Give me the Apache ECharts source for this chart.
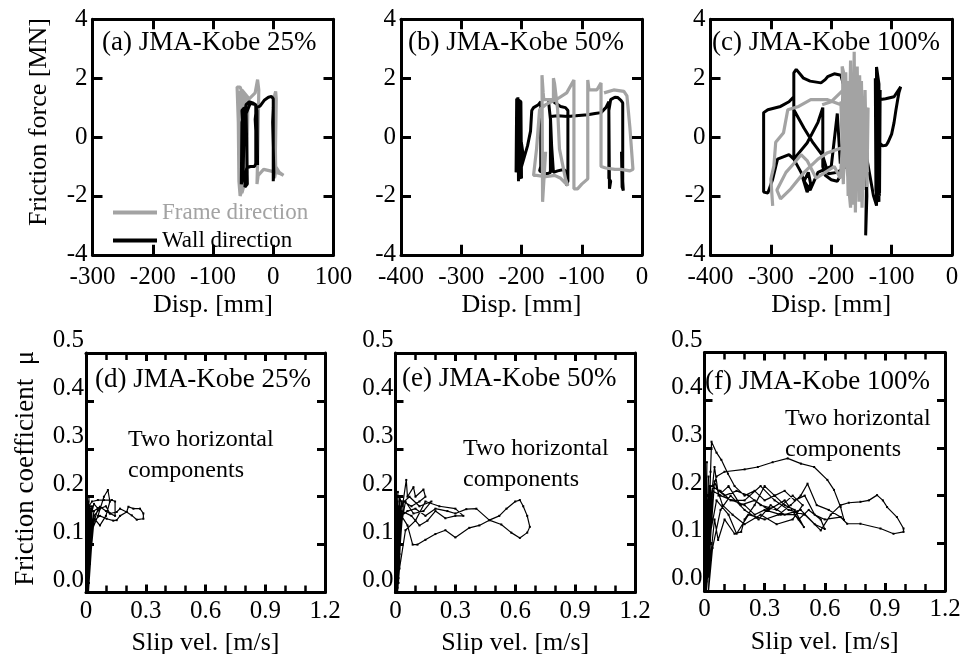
<!DOCTYPE html>
<html><head><meta charset="utf-8">
<script src="https://cdn.jsdelivr.net/npm/echarts@6/dist/echarts.min.js"></script>
<style>html,body{margin:0;padding:0;background:#fff}#c{width:961px;height:654px}</style>
</head><body><div id="c"></div>
<script>
// ---------- DATA ----------
const panelTitles = ['(a) JMA-Kobe 25%', '(b) JMA-Kobe 50%', '(c) JMA-Kobe 100%',
                     '(d) JMA-Kobe 25%', '(e) JMA-Kobe 50%', '(f) JMA-Kobe 100%'];
const seriesNames = ['Frame direction', 'Wall direction'];
const dispRanges = [[-300, 100], [-400, 0], [-400, 0]];
const forceRange = [-4, 4];
const velRange = [0, 1.2];
const muRange = [0, 0.5];
const dispAxisName = 'Disp. [mm]';
const velAxisName = 'Slip vel. [m/s]';
const forceAxisName = 'Friction force [MN]';
const muAxisName = 'Friction coefficient  \u03bc';
const noteText = 'Two horizontal\ncomponents';

// (a) 25% : [disp mm, force MN]
const frameA = [[-45,0.0],[-48,1.3],[-55,1.7],[-60,1.7],[-58,0.5],[-57,-1.5],[-55,-2.0],[-52,-1.8],[-50,-1.2],[-53,1.2],[-50,1.5],[-45,1.3],[-42,1.2],[-44,-1.2],[-48,-1.6],[-52,-1.9],[-54,0.8],[-56,1.5],[-52,1.6],[-40,1.3],[-30,1.5],[-26,1.95],[-24,1.6],[-26,-0.8],[-27,-1.6],[-25,-1.3],[-16,-1.1],[-5,-1.15],[5,-1.2],[12,-1.25],[17,-1.3],[10,-1.2],[4,-1.0],[3,0.5],[2,1.4],[4,1.55],[5,1.3],[3,-1.3],[2,-1.4]];
const wallA = [[-50,0.2],[-52,0.9],[-48,1.0],[-50,-1.4],[-53,-1.6],[-52,0.5],[-47,0.9],[-45,1.1],[-40,1.2],[-33,1.15],[-29,1.1],[-29,-0.9],[-31,-1.0],[-38,-1.0],[-44,-1.05],[-46,-1.3],[-47,-1.7],[-43,-1.6],[-45,0.8],[-38,1.15],[-30,1.1],[-27,0.9],[-26,-0.95],[-28,-1.0],[-30,0.6],[-28,1.0],[-22,1.05],[-15,1.25],[-8,1.35],[-3,1.38],[0,1.3],[0,-1.5],[1,-1.2],[-1,0.5],[0,1.0]];
// (b) 50%
const frameB = [[-160,-0.5],[-165,-2.2],[-166,2.1],[-164,1.5],[-163,1.27],[-155,1.27],[-147,1.27],[-147,2.0],[-145,1.8],[-140,0.93],[-137,-0.4],[-127,-1.42],[-123,-1.65],[-135,-1.4],[-145,-1.3],[-160,-1.35],[-175,-1.3],[-180,-1.3],[-175,-0.4],[-170,0.93],[-160,1.1],[-140,1.3],[-125,1.5],[-113,1.94],[-113,-1.76],[-107,-1.76],[-100,-1.6],[-90,-1.42],[-90,1.94],[-88,1.6],[-85,1.6],[-75,1.6],[-68,1.84],[-68,-1.0],[-60,-1.05],[-57,-1.1],[-45,-1.1],[-35,-1.1],[-20,-1.15],[-15,-1.1],[-20,0.3],[-25,1.4],[-30,1.55],[-47,1.6],[-63,1.5]];
const wallB = [[-205,-1.5],[-206,1.35],[-203,1.3],[-204,-1.3],[-200,-1.4],[-201,1.2],[-208,1.3],[-209,-1.2],[-207,0.8],[-198,-0.5],[-200,-1.0],[-197,-1.0],[-190,-0.3],[-185,0.2],[-183,0.9],[-180,1.0],[-178,0.95],[-172,1.1],[-168,1.2],[-168,-1.0],[-170,-1.15],[-165,-1.2],[-157,-1.25],[-152,-1.2],[-152,0.6],[-155,1.2],[-150,1.25],[-147,1.2],[-140,1.1],[-135,1.04],[-127,1.0],[-123,0.9],[-123,-1.5],[-125,-1.65],[-122,-1.6],[-125,-1.2],[-130,-1.1],[-140,-1.15],[-147,-1.2],[-150,-0.3],[-152,0.7],[-140,0.72],[-123,0.7],[-110,0.72],[-100,0.74],[-90,0.76],[-78,0.8],[-68,0.83],[-60,1.0],[-55,1.2],[-55,-1.4],[-52,-1.5],[-50,-1.45],[-54,-1.76],[-56,-1.7],[-55,0.9],[-52,1.27],[-45,1.35],[-40,1.34],[-35,1.25],[-32,1.16],[-32,-1.5],[-31,-1.82],[-33,-1.7],[-34,-0.5]];
// (c) 100%
const frameC = [[-297,-2.34],[-300,-1.43],[-295,-0.98],[-292,-0.18],[-279,0.15],[-272,0.93],[-254,1.04],[-234,1.27],[-206,1.27],[-184,1.1],[-175,1.0],[-184,1.2],[-180,-1.6],[-176,2.2],[-172,-2.0],[-168,2.6],[-165,-2.3],[-162,2.9],[-160,-2.56],[-157,2.4],[-154,-2.2],[-150,1.9],[-147,-1.8],[-144,1.6],[-141,-1.7],[-139,1.0],[-150,-0.2],[-173,-0.3],[-206,-0.53],[-222,-0.75],[-245,-1.2],[-267,-1.76],[-284,-2.1],[-290,-1.8],[-275,-1.2],[-262,-0.9],[-250,-0.6],[-240,-0.8],[-225,-1.4],[-210,-1.2],[-195,-1.0],[-185,-1.4],[-178,0.8],[-172,1.9],[-166,-1.2],[-160,2.2],[-155,-1.6],[-150,1.4],[-158,0.2],[-170,1.4],[-182,2.4],[-176,-0.6],[-168,-2.4],[-163,1.0],[-153,2.1],[-149,-2.4],[-145,0.3],[-140,-1.2],[-146,1.3],[-180,1.6],[-200,1.2],[-215,1.1]];
const wallC = [[-140,0.5],[-143,-3.34],[-141,-2.0],[-143,1.0],[-150,0.5],[-160,-0.5],[-175,-1.0],[-190,-1.2],[-205,-1.25],[-214,-0.64],[-230,-0.2],[-245,0.3],[-262,0.93],[-262,2.18],[-258,2.3],[-256,2.28],[-250,2.1],[-246,2.0],[-235,1.9],[-217,1.84],[-210,1.95],[-206,2.05],[-195,2.15],[-184,2.1],[-180,1.8],[-182,-1.2],[-190,-1.5],[-200,-1.45],[-210,-1.3],[-214,-1.0],[-214,1.0],[-222,0.5],[-240,-0.2],[-262,-0.75],[-270,-0.6],[-289,-0.75],[-297,-1.43],[-305,-1.9],[-312,-1.87],[-312,0.83],[-305,0.93],[-284,1.04],[-270,1.2],[-262,1.37],[-262,0.0],[-262,-0.75],[-250,-1.2],[-240,-1.87],[-234,-1.6],[-238,-1.2],[-245,-1.5],[-235,-1.8],[-222,-1.2],[-200,-1.0],[-190,0.8],[-185,-0.9],[-175,0.7],[-170,-1.2],[-160,1.4],[-155,-1.3],[-148,1.0],[-143,-0.5],[-130,-2.0],[-125,-2.33],[-125,2.38],[-121,1.8],[-121,-2.2],[-126,-1.8],[-127,2.0],[-123,-2.0],[-119,1.6],[-120,-1.9],[-124,2.2],[-122,-1.0],[-121,1.27],[-110,1.3],[-96,1.37],[-85,1.71],[-88,1.5],[-90,1.27],[-93,0.9],[-96,0.49],[-100,0.1],[-106,-0.18],[-109,-0.28],[-115,-0.3],[-120,-0.2],[-123,-1.5],[-120,-2.0]];
// (d)-(f): [slip velocity m/s, friction coefficient]
const muD = [[0.0,0.0],[0.01,0.17],[0.003,0.02],[0.02,0.18],[0.005,0.01],[0.012,0.19],[0.002,0.04],[0.025,0.16],[0.006,0.0],[0.015,0.2],[0.001,0.03],[0.03,0.17],[0.008,0.0],[0.02,0.08],[0.01,0.01],[0.03,0.12],[0.015,0.02],[0.025,0.15],[0.01,0.05],[0.02,0.17],[0.005,0.1],[0.015,0.18],[0.03,0.19],[0.06,0.193],[0.09,0.193],[0.13,0.193],[0.146,0.19],[0.146,0.16],[0.12,0.165],[0.1,0.17],[0.07,0.179],[0.04,0.17],[0.02,0.11],[0.01,0.02],[0.02,0.14],[0.04,0.16],[0.07,0.175],[0.1,0.18],[0.12,0.165],[0.154,0.168],[0.171,0.175],[0.204,0.168],[0.213,0.179],[0.238,0.175],[0.271,0.175],[0.288,0.165],[0.288,0.154],[0.255,0.152],[0.23,0.161],[0.204,0.168],[0.171,0.16],[0.154,0.151],[0.137,0.15],[0.104,0.154],[0.07,0.16],[0.04,0.15],[0.02,0.06],[0.01,0.0],[0.03,0.13],[0.06,0.16],[0.09,0.2],[0.11,0.214],[0.12,0.19],[0.1,0.16],[0.07,0.14],[0.04,0.155],[0.02,0.09],[0.005,0.01],[0.02,0.16],[0.03,0.18],[0.01,0.03],[0.02,0.175],[0.004,0.005],[0.018,0.15],[0.04,0.185],[0.06,0.175],[0.035,0.14],[0.012,0.0]];
const muE = [[0.0,0.0],[0.01,0.19],[0.003,0.01],[0.02,0.2],[0.005,0.02],[0.015,0.18],[0.002,0.0],[0.03,0.19],[0.006,0.03],[0.012,0.21],[0.001,0.02],[0.025,0.17],[0.005,0.0],[0.02,0.12],[0.01,0.02],[0.025,0.18],[0.01,0.05],[0.03,0.19],[0.015,0.03],[0.02,0.2],[0.035,0.18],[0.054,0.235],[0.06,0.2],[0.09,0.22],[0.1,0.2],[0.14,0.215],[0.15,0.2],[0.12,0.19],[0.08,0.18],[0.04,0.19],[0.02,0.08],[0.01,0.01],[0.03,0.16],[0.06,0.17],[0.1,0.175],[0.15,0.16],[0.2,0.175],[0.26,0.17],[0.3,0.165],[0.355,0.174],[0.405,0.175],[0.47,0.151],[0.52,0.16],[0.556,0.175],[0.6,0.19],[0.623,0.193],[0.64,0.18],[0.66,0.16],[0.673,0.137],[0.66,0.125],[0.623,0.114],[0.58,0.125],[0.53,0.142],[0.47,0.151],[0.42,0.14],[0.37,0.135],[0.3,0.115],[0.25,0.13],[0.2,0.122],[0.15,0.11],[0.11,0.1],[0.086,0.1],[0.06,0.14],[0.03,0.16],[0.015,0.02],[0.03,0.17],[0.08,0.16],[0.12,0.14],[0.16,0.15],[0.2,0.17],[0.25,0.155],[0.3,0.16],[0.34,0.16],[0.3,0.175],[0.22,0.18],[0.15,0.19],[0.1,0.15],[0.05,0.13],[0.02,0.05],[0.01,0.0],[0.03,0.185],[0.07,0.2],[0.12,0.18],[0.18,0.19],[0.14,0.17],[0.09,0.165],[0.05,0.19],[0.02,0.12],[0.008,0.0]];
const muF = [[0.0,0.0],[0.01,0.2],[0.003,0.01],[0.02,0.24],[0.005,0.02],[0.015,0.19],[0.002,0.0],[0.03,0.22],[0.006,0.03],[0.012,0.27],[0.001,0.02],[0.025,0.2],[0.005,0.0],[0.02,0.15],[0.01,0.02],[0.025,0.22],[0.01,0.04],[0.03,0.25],[0.015,0.05],[0.035,0.313],[0.06,0.29],[0.084,0.275],[0.117,0.246],[0.15,0.22],[0.2,0.2],[0.25,0.21],[0.3,0.19],[0.35,0.2],[0.4,0.18],[0.45,0.17],[0.496,0.134],[0.45,0.16],[0.38,0.16],[0.3,0.17],[0.25,0.16],[0.2,0.18],[0.14,0.19],[0.08,0.2],[0.04,0.21],[0.02,0.06],[0.01,0.0],[0.03,0.2],[0.06,0.24],[0.1,0.25],[0.2,0.255],[0.266,0.26],[0.34,0.27],[0.415,0.278],[0.481,0.267],[0.547,0.26],[0.613,0.233],[0.646,0.212],[0.679,0.176],[0.696,0.149],[0.679,0.155],[0.6,0.15],[0.55,0.16],[0.5,0.2],[0.45,0.19],[0.4,0.21],[0.35,0.2],[0.3,0.22],[0.25,0.18],[0.2,0.15],[0.183,0.124],[0.15,0.12],[0.1,0.15],[0.068,0.107],[0.05,0.15],[0.02,0.03],[0.03,0.22],[0.08,0.21],[0.13,0.19],[0.2,0.19],[0.28,0.22],[0.35,0.19],[0.42,0.17],[0.5,0.16],[0.58,0.127],[0.63,0.16],[0.679,0.18],[0.72,0.185],[0.778,0.187],[0.82,0.19],[0.861,0.201],[0.89,0.19],[0.911,0.176],[0.96,0.155],[0.993,0.131],[0.993,0.124],[0.943,0.12],[0.878,0.131],[0.778,0.141],[0.712,0.141],[0.679,0.155],[0.62,0.17],[0.56,0.18],[0.514,0.225],[0.48,0.2],[0.43,0.18],[0.37,0.16],[0.3,0.15],[0.22,0.16],[0.16,0.12],[0.12,0.16],[0.06,0.19],[0.02,0.1],[0.01,0.0],[0.03,0.18],[0.05,0.26],[0.07,0.2],[0.12,0.22],[0.18,0.18],[0.25,0.19],[0.32,0.17],[0.4,0.19],[0.47,0.15],[0.52,0.17],[0.58,0.15],[0.6,0.13],[0.55,0.14],[0.48,0.17],[0.4,0.16],[0.33,0.18],[0.27,0.15],[0.2,0.17],[0.13,0.2],[0.08,0.17],[0.04,0.09],[0.02,0.0],[0.04,0.22],[0.1,0.2],[0.16,0.21],[0.22,0.2],[0.28,0.18],[0.36,0.17],[0.44,0.2],[0.49,0.18],[0.44,0.15],[0.36,0.14],[0.28,0.16],[0.2,0.14],[0.14,0.16],[0.09,0.18],[0.05,0.23],[0.02,0.05],[0.008,0.0]];

// ---------- LAYOUT / STYLE ----------
const FONT = '"Liberation Serif", "Times New Roman", serif';
const GRAY = '#a3a3a3';
const boxes = [
  {left: 92.5, top: 19.3, width: 241, height: 235.5},
  {left: 401, top: 19.3, width: 241, height: 235.5},
  {left: 710.5, top: 19.3, width: 241.5, height: 235.5},
  {left: 86, top: 353, width: 239, height: 239.5},
  {left: 395.5, top: 353, width: 239.5, height: 239.5},
  {left: 704.5, top: 352.5, width: 240.5, height: 238.5}
];
const titlePos = [[102, 43], [408, 43], [712, 43], [95, 380], [402, 379], [705, 382]];
const notePos = [[128, 424], [463, 433], [785, 403]];

const grids = boxes.map(b => Object.assign({show: false, containLabel: false, outerBoundsMode: 'none'}, b));

function axisCommon(top, isX) {
  return {
    z: 10,
    axisLine: {show: true, onZero: false, lineStyle: {color: '#000', width: 3}},
    splitLine: {show: false},
    axisTick: {show: true, inside: true, length: top ? 10 : 8, lineStyle: {color: '#000', width: 3}},
    minorTick: (!top && isX) ? {show: true, splitNumber: 3, length: 7, lineStyle: {color: '#000', width: 2.5}} : {show: false}
  };
}

const xAxes = [], yAxes = [];
for (let g = 0; g < 6; g++) {
  const top = g < 3;
  const xr = top ? dispRanges[g] : velRange;
  const yr = top ? forceRange : muRange;
  const xint = top ? 100 : 0.3;
  const yint = top ? 2 : 0.1;
  const xfmt = top ? (v => String(v)) : (v => v === 0 ? '0' : v.toFixed(1));
  const yfmt = top ? (v => String(v)) : (v => v.toFixed(1));
  xAxes.push(Object.assign({type: 'value', gridIndex: g, min: xr[0], max: xr[1], interval: xint, position: 'bottom',
    axisLabel: {show: true, formatter: xfmt, margin: top ? 10 : 6, color: '#000', fontFamily: FONT, fontSize: 25},
    name: top ? dispAxisName : velAxisName, nameLocation: 'middle', nameGap: top ? 37 : 38,
    nameTextStyle: {color: '#000', fontFamily: FONT, fontSize: 26}}, axisCommon(top, true)));
  xAxes.push(Object.assign({type: 'value', gridIndex: g, min: xr[0], max: xr[1], interval: xint, position: 'top',
    axisLabel: {show: false}}, axisCommon(top, true)));
  const yMain = Object.assign({type: 'value', gridIndex: g, min: yr[0], max: yr[1], interval: yint, position: 'left',
    axisLabel: {show: true, formatter: yfmt, margin: top ? 5 : 2, color: '#000', fontFamily: FONT, fontSize: 25,
      verticalAlign: top ? 'middle' : 'bottom'}}, axisCommon(top, false));
  if (g === 0) {
    Object.assign(yMain, {name: forceAxisName, nameLocation: 'middle', nameGap: 40,
      nameTextStyle: {color: '#000', fontFamily: FONT, fontSize: 26, padding: [0, 0, 0, 30]}});
  }
  if (g === 3) {
    Object.assign(yMain, {name: muAxisName, nameLocation: 'middle', nameGap: 47,
      nameTextStyle: {color: '#000', fontFamily: FONT, fontSize: 27, padding: [0, 0, 0, 9]}});
  }
  yAxes.push(yMain);
  yAxes.push(Object.assign({type: 'value', gridIndex: g, min: yr[0], max: yr[1], interval: yint, position: 'right',
    axisLabel: {show: false}}, axisCommon(top, false)));
}

function mk(name, data, g, color, width, z, sym) {
  return {type: 'line', name: name, xAxisIndex: 2 * g, yAxisIndex: 2 * g, data: data,
    showSymbol: !!sym, symbol: 'rect', symbolSize: 2, silent: true, animation: false, clip: true, z: z,
    lineStyle: {color: color, width: width}, itemStyle: {color: color}};
}
const series = [
  mk(seriesNames[0], frameA, 0, GRAY, 3.2, 2),
  mk(seriesNames[1], wallA, 0, '#000', 3, 3),
  mk(seriesNames[1], wallB, 1, '#000', 3, 2),
  mk(seriesNames[0], frameB, 1, GRAY, 3.2, 3),
  mk(seriesNames[1], wallC, 2, '#000', 3, 2),
  mk(seriesNames[0], frameC, 2, GRAY, 3.2, 3),
  mk('mu25', muD, 3, '#000', 1.2, 2, true),
  mk('mu50', muE, 4, '#000', 1.2, 2, true),
  mk('mu100', muF, 5, '#000', 1.2, 2, true)
];

const graphics = [];
panelTitles.forEach((t, i) => graphics.push({type: 'text', x: titlePos[i][0], y: titlePos[i][1], z: 10,
  style: {text: t, fill: '#000', font: '27px ' + FONT, verticalAlign: 'middle', align: 'left'}}));
notePos.forEach(p => graphics.push({type: 'text', x: p[0], y: p[1], z: 10,
  style: {text: noteText, fill: '#000', font: '24px ' + FONT, lineHeight: 31, verticalAlign: 'top', align: 'left'}}));

const chart = echarts.init(document.getElementById('c'), null, {renderer: 'canvas'});
chart.setOption({
  animation: false,
  backgroundColor: '#fff',
  grid: grids,
  xAxis: xAxes,
  yAxis: yAxes,
  legend: {show: true, orient: 'vertical', left: 113, top: 201, padding: 0, itemWidth: 44, itemHeight: 4,
    itemGap: 5, icon: 'rect', selectedMode: false,
    data: [{name: seriesNames[0], textStyle: {color: GRAY}}, {name: seriesNames[1], textStyle: {color: '#000'}}],
    textStyle: {fontFamily: FONT, fontSize: 23, color: '#000'}},
  graphic: graphics,
  series: series
});
</script></body></html>
